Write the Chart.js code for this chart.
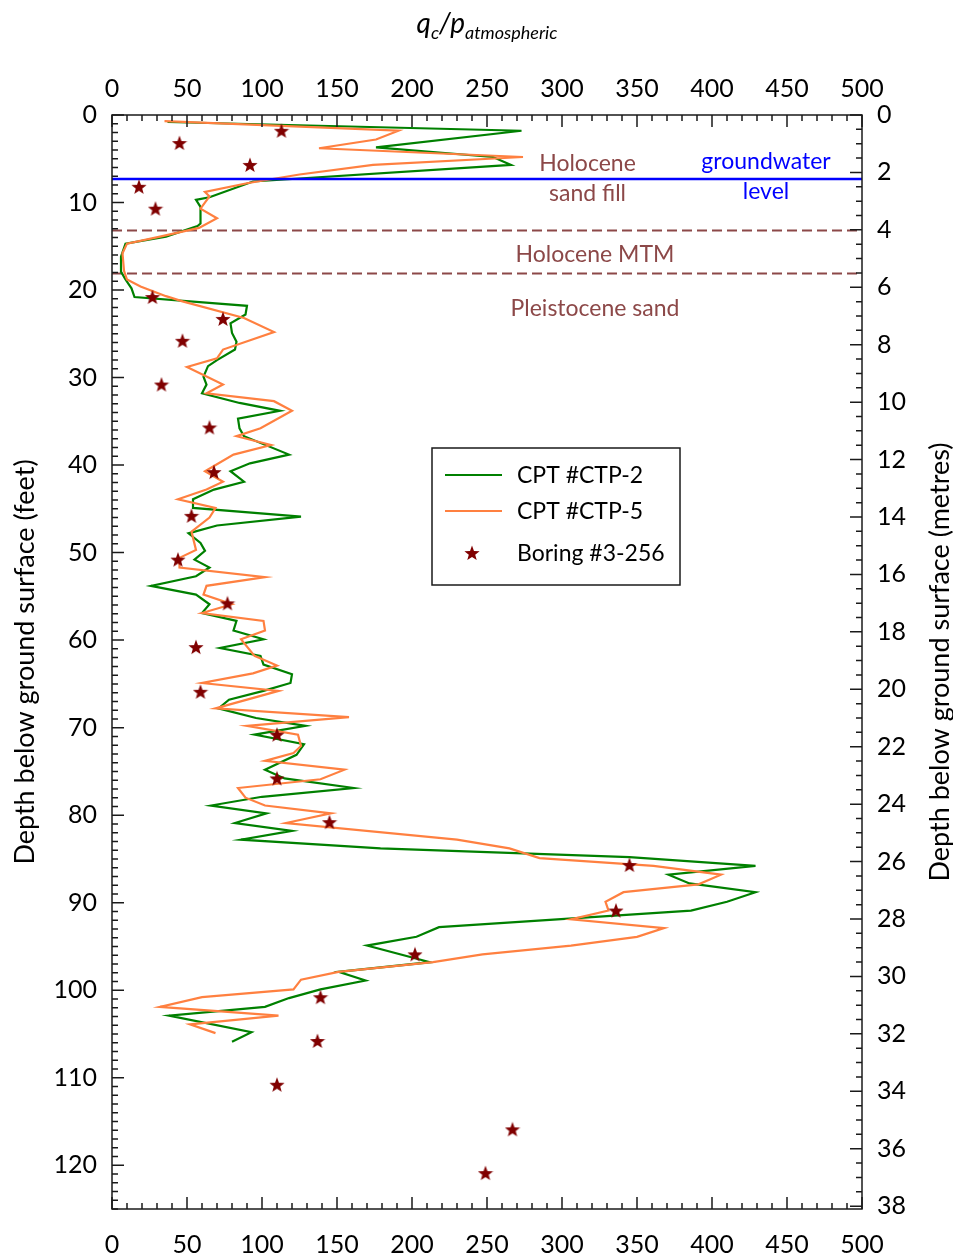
<!DOCTYPE html>
<html>
<head>
<meta charset="utf-8">
<script src="https://cdn.jsdelivr.net/npm/chart.js@4.4.1/dist/chart.umd.min.js"></script>
<style>
  body { margin: 0; background: #fff; }
</style>
</head>
<body>
<canvas id="cpt" width="953" height="1256"></canvas>
<script>
// CPT #CTP-2 : depth (ft) and normalised cone resistance qc/patm
const ctp2Depth = [0.8, 1.8, 3.7, 4.8, 5.7, 7.6, 9.4, 9.7, 10.5, 12.4, 12.7, 13.9, 14.7, 16.2, 17.9, 18.8, 19.8, 20.8,
  21.8, 22.8, 23.8, 24.9, 25.9, 26.8, 28.0, 28.7, 29.9, 30.8, 31.8, 32.9, 33.8, 34.7, 35.8, 36.7, 38.8, 39.8, 40.7,
  41.9, 42.8, 43.9, 44.9, 45.9, 46.9, 47.8, 48.9, 49.8, 50.8, 51.7, 52.7, 53.8, 54.8, 55.9, 56.9, 57.8, 58.9, 59.9,
  60.9, 61.8, 62.8, 63.9, 64.9, 65.8, 66.8, 67.8, 68.9, 69.8, 70.8, 71.9, 73.1, 74.8, 75.8, 76.9, 77.9, 78.9, 79.8,
  80.9, 81.8, 82.8, 83.8, 84.8, 85.8, 86.8, 87.8, 88.8, 89.9, 90.9, 92.8, 93.9, 94.9, 96.8, 97.9, 98.9, 99.9, 100.9,
  101.9, 102.9, 104.8, 105.9];
const ctp2Qc = [37, 273, 176, 254, 266, 94, 65, 56, 59, 59, 57, 36, 9, 6, 6, 9, 13, 15,
  90, 89, 79, 80, 83, 82, 70, 64, 61, 63, 60, 85, 112, 84, 85, 88, 118, 92, 79,
  88, 68, 54, 54, 126, 70, 51, 59, 62, 55, 65, 56, 26, 56, 65, 60, 83, 81, 101,
  72, 99, 101, 120, 119, 101, 78, 71, 96, 129, 95, 128, 123, 102, 115, 161, 100, 66, 103,
  82, 120, 86, 179, 345, 429, 371, 385, 429, 410, 386, 218, 203, 170, 212, 151, 169, 139, 118,
  102, 38, 93, 80];

// CPT #CTP-5
const ctp5Depth = [0.7, 1.8, 2.8, 3.8, 4.8, 5.7, 6.8, 7.8, 8.8, 9.3, 10.7, 11.8, 12.9, 13.9, 14.7, 15.8, 17.8, 18.8,
  19.6, 20.7, 21.3, 23.2, 24.8, 26.8, 27.8, 28.8, 30.8, 31.8, 32.7, 33.8, 35.8, 36.7, 37.7, 38.8, 40.7, 41.9, 42.8,
  43.9, 44.9, 46.0, 47.6, 49.7, 50.6, 51.7, 52.8, 53.8, 54.8, 55.9, 56.9, 57.8, 58.9, 59.9, 61.8, 62.9, 63.8, 64.9,
  65.8, 67.8, 68.8, 69.8, 70.8, 72.1, 72.9, 73.8, 74.8, 75.9, 76.9, 78.0, 78.9, 79.8, 80.9, 82.8, 83.8, 84.9, 85.8,
  86.8, 87.9, 88.8, 89.9, 90.9, 91.9, 92.9, 93.9, 94.9, 95.9, 96.8, 97.9, 98.8, 99.9, 100.8, 101.9, 102.9, 103.9, 104.9];
const ctp5Qc = [35, 191, 176, 138, 274, 174, 125, 90, 62, 65, 59, 70, 58, 32, 10, 7, 8, 10,
  19, 36, 47, 88, 108, 74, 70, 50, 74, 63, 108, 120, 99, 83, 106, 81, 62, 74, 63,
  44, 69, 65, 53, 56, 45, 45, 102, 63, 61, 80, 60, 101, 102, 86, 95, 110, 94, 60,
  111, 69, 158, 90, 124, 126, 121, 102, 155, 139, 84, 89, 102, 146, 116, 230, 265, 285, 361,
  406, 391, 341, 329, 331, 306, 368, 350, 306, 247, 214, 151, 126, 121, 60, 32, 111, 52, 69];

// Boring #3-256
const boringDepth = [1.8, 3.2, 5.7, 8.2, 10.7, 20.8, 23.3, 25.8, 30.8, 35.7, 40.8, 45.8, 50.8, 55.8, 60.8, 65.9,
  70.8, 75.8, 80.8, 85.7, 90.9, 95.9, 100.8, 105.8, 110.8, 115.9, 120.9];
const boringQc = [113, 45, 92, 18, 29, 27, 74, 47, 33, 65, 68, 53, 44, 77, 56, 59,
  110, 110, 145, 345, 336, 202, 139, 137, 110, 267, 249];

// groundwater and layer boundaries (ft)
const waterDepth = 7.3;
const layerDepths = [13.2, 18.1];

const qcRange = [0, 500];
const depthRange = [0, 125];
const FT_TO_M = 0.3048;

const GREEN = '#008000';
const ORANGE = '#ff8040';
const DARKRED = '#800000';
const BROWN = '#8c4848';
const FONT = 'Lato, "Open Sans", sans-serif';

const toPoints = (depths, vals) => depths.map((d, i) => ({ x: vals[i], y: d }));
const across = d => [{ x: qcRange[0], y: d }, { x: qcRange[1], y: d }];

// filled five-point star used as point marker
function makeStar(size, color) {
  const c = document.createElement('canvas');
  c.width = size; c.height = size;
  const g = c.getContext('2d');
  const cx = size / 2, cy = size / 2 + 0.6, ro = size / 2, ri = ro * 0.42;
  g.beginPath();
  for (let i = 0; i < 10; i++) {
    const r = i % 2 ? ri : ro;
    const a = -Math.PI / 2 + i * Math.PI / 5;
    g.lineTo(cx + r * Math.cos(a), cy + r * Math.sin(a));
  }
  g.closePath();
  g.fillStyle = color;
  g.fill();
  return c;
}
const star = makeStar(16, DARKRED);

// layer / water labels, placed in data units
const notes = [
  { text: 'Holocene', x: 317, y: 5.5, color: BROWN },
  { text: 'sand fill', x: 317, y: 9.0, color: BROWN },
  { text: 'groundwater', x: 436, y: 5.3, color: '#0000ff' },
  { text: 'level', x: 436, y: 8.8, color: '#0000ff' },
  { text: 'Holocene MTM', x: 322, y: 16.0, color: BROWN },
  { text: 'Pleistocene sand', x: 322, y: 22.1, color: BROWN }
];

const legendOrder = ['CPT #CTP-2', 'CPT #CTP-5', 'Boring #3-256'];

const decor = {
  id: 'decor',
  afterDraw(chart) {
    const { ctx, chartArea: a } = chart;
    const { x, y, y2 } = chart.scales;
    ctx.save();

    // frame and inward tick marks
    ctx.strokeStyle = '#1a1a1a';
    ctx.lineWidth = 1.5;
    ctx.strokeRect(a.left, a.top, a.right - a.left, a.bottom - a.top);
    ctx.beginPath();
    for (let v = qcRange[0]; v <= qcRange[1]; v += 10) {
      const px = x.getPixelForValue(v);
      const len = v % 50 === 0 ? 12 : 6;
      ctx.moveTo(px, a.top); ctx.lineTo(px, a.top + len);
      ctx.moveTo(px, a.bottom); ctx.lineTo(px, a.bottom - len);
    }
    for (let d = depthRange[0]; d <= depthRange[1]; d += 1) {
      const py = y.getPixelForValue(d);
      const len = d % 10 === 0 ? 12 : 6;
      ctx.moveTo(a.left, py); ctx.lineTo(a.left + len, py);
    }
    for (let m = 0; m <= 38; m += 0.5) {
      const py = y2.getPixelForValue(m);
      const len = m % 2 === 0 ? 12 : 6;
      ctx.moveTo(a.right, py); ctx.lineTo(a.right - len, py);
    }
    ctx.stroke();

    // annotations
    ctx.textAlign = 'center';
    ctx.textBaseline = 'middle';
    ctx.font = '23px ' + FONT;
    notes.forEach(n => {
      ctx.fillStyle = n.color;
      ctx.fillText(n.text, x.getPixelForValue(n.x), y.getPixelForValue(n.y));
    });

    // axis titles
    const midY = (a.top + a.bottom) / 2;
    ctx.fillStyle = '#000';
    ctx.font = '27px ' + FONT;
    ctx.save();
    ctx.translate(25, midY);
    ctx.rotate(-Math.PI / 2);
    ctx.fillText('Depth below ground surface (feet)', 0, 0);
    ctx.restore();
    ctx.save();
    ctx.translate(940, midY);
    ctx.rotate(-Math.PI / 2);
    ctx.fillText('Depth below ground surface (metres)', 0, 0);
    ctx.restore();

    // q_c / p_atmospheric
    const parts = [
      { t: 'q', f: 'italic 28px ' + FONT, dy: 0 },
      { t: 'c', f: 'italic 18px ' + FONT, dy: 6 },
      { t: '/p', f: 'italic 28px ' + FONT, dy: 0 },
      { t: 'atmospheric', f: 'italic 18px ' + FONT, dy: 6 }
    ];
    let w = 0;
    parts.forEach(p => { ctx.font = p.f; w += ctx.measureText(p.t).width; });
    let cx = (a.left + a.right) / 2 - w / 2;
    ctx.textAlign = 'left';
    ctx.textBaseline = 'alphabetic';
    parts.forEach(p => {
      ctx.font = p.f;
      ctx.fillText(p.t, cx, 33 + p.dy);
      cx += ctx.measureText(p.t).width;
    });

    // legend box
    const lx = 432, ly = 448, lw = 248, lh = 137;
    ctx.fillStyle = '#fff';
    ctx.fillRect(lx, ly, lw, lh);
    ctx.strokeStyle = '#1a1a1a';
    ctx.lineWidth = 1.5;
    ctx.strokeRect(lx, ly, lw, lh);
    const rowY = [475, 511, 553];
    ctx.font = '23px ' + FONT;
    ctx.textBaseline = 'middle';
    legendOrder.forEach((name, i) => {
      const ds = chart.data.datasets.find(d => d.label === name);
      const ry = rowY[i];
      if (ds.showLine) {
        ctx.strokeStyle = ds.borderColor;
        ctx.lineWidth = 2.2;
        ctx.beginPath();
        ctx.moveTo(445, ry); ctx.lineTo(502, ry);
        ctx.stroke();
      } else {
        ctx.drawImage(star, 472 - star.width / 2, ry - star.height / 2);
      }
      ctx.fillStyle = '#000';
      ctx.fillText(ds.label, 517, ry + 1);
    });
    ctx.restore();
  }
};

const tickFont = { family: FONT, size: 25 };
const axisBase = {
  type: 'linear',
  grid: { display: false, drawTicks: false },
  border: { display: false }
};

new Chart(document.getElementById('cpt'), {
  type: 'scatter',
  data: {
    datasets: [
      {
        label: 'Boring #3-256', order: 0,
        data: toPoints(boringDepth, boringQc),
        pointStyle: star, pointRadius: 8, showLine: false
      },
      {
        label: 'groundwater', order: 1, data: across(waterDepth),
        showLine: true, borderColor: '#0000ff', borderWidth: 2.5, pointRadius: 0
      },
      {
        label: 'CPT #CTP-5', order: 2,
        data: toPoints(ctp5Depth, ctp5Qc),
        showLine: true, borderColor: ORANGE, borderWidth: 2.2, pointRadius: 0, tension: 0
      },
      {
        label: 'CPT #CTP-2', order: 3,
        data: toPoints(ctp2Depth, ctp2Qc),
        showLine: true, borderColor: GREEN, borderWidth: 2.2, pointRadius: 0, tension: 0
      },
      ...layerDepths.map((d, i) => ({
        label: 'layer ' + i, order: 4, data: across(d),
        showLine: true, borderColor: BROWN, borderWidth: 2, borderDash: [10, 5], pointRadius: 0
      }))
    ]
  },
  options: {
    responsive: false,
    animation: false,
    layout: { padding: 0 },
    plugins: { legend: { display: false }, tooltip: { enabled: false } },
    scales: {
      x: {
        ...axisBase, position: 'top', min: qcRange[0], max: qcRange[1],
        ticks: { stepSize: 50, padding: 11, font: tickFont, color: '#000' },
        afterFit: s => { s.height = 115; }
      },
      x2: {
        ...axisBase, position: 'bottom', min: qcRange[0], max: qcRange[1],
        ticks: { stepSize: 50, padding: 21, font: tickFont, color: '#000' },
        afterFit: s => { s.height = 47; }
      },
      y: {
        ...axisBase, position: 'left', reverse: true, min: depthRange[0], max: depthRange[1],
        ticks: { stepSize: 10, padding: 15, includeBounds: false, font: tickFont, color: '#000' },
        afterFit: s => { s.width = 112; }
      },
      y2: {
        ...axisBase, position: 'right', reverse: true,
        min: depthRange[0] * FT_TO_M, max: depthRange[1] * FT_TO_M,
        ticks: { stepSize: 2, padding: 15, includeBounds: false, font: tickFont, color: '#000' },
        afterFit: s => { s.width = 91; }
      }
    }
  },
  plugins: [decor]
});
</script>
</body>
</html>
